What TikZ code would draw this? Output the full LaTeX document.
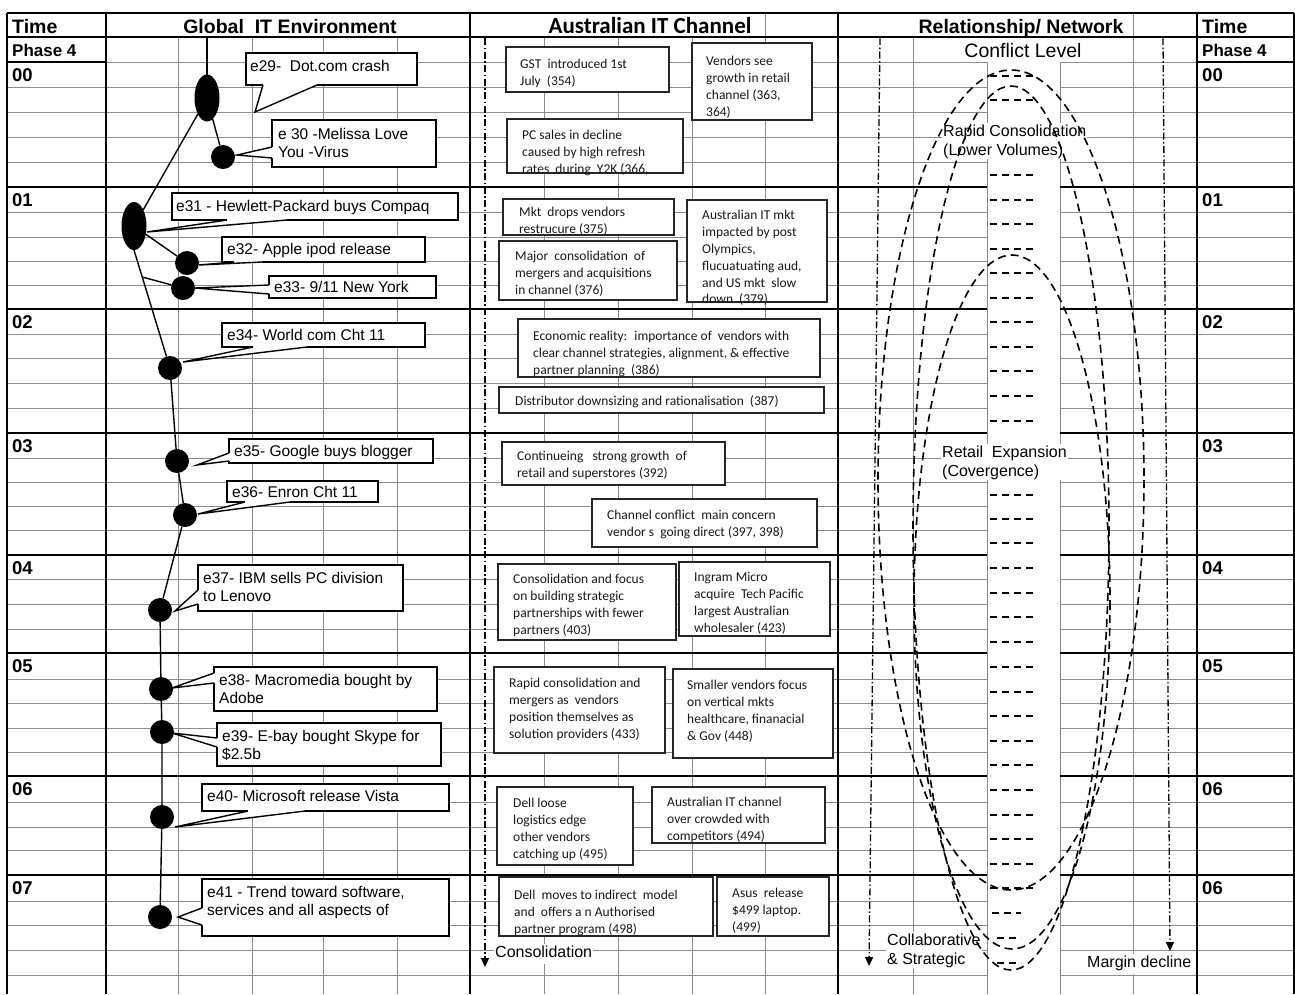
\documentclass[tikz,border=0pt]{standalone}
\usepackage{fontspec}
\setmainfont{Liberation Sans}
\newfontfamily\calfont{Carlito}
\usetikzlibrary{arrows.meta,calc,shapes.geometric}
\newcommand\callwedge[3]{%
  \fill[white] (#2) -- (#1) -- (#3) -- cycle;
  \draw[white,line width=2.8pt] (#2) -- (#3);
  \draw[cline] (#2) -- (#1) -- (#3);
}
\begin{document}
\begin{tikzpicture}[x=1pt,y=-1pt,
  gthin/.style={draw=black!45,line width=0.9pt},
  gthick/.style={draw=black,line width=1.9pt},
  hdr/.style={font=\bfseries\fontsize{19.5}{22}\selectfont,inner sep=0},
  yr/.style={font=\bfseries\fontsize{18.5}{20}\selectfont,anchor=west,inner sep=0},
  dotn/.style={circle,fill=black,minimum size=24pt,inner sep=0,outer sep=0},
  bigdot/.style={ellipse,fill=black,minimum width=25pt,minimum height=47pt,inner sep=0,outer sep=0},
  trunk/.style={line width=1.4pt},
  cbox/.style={draw=black,line width=1.4pt,fill=white,anchor=north west,inner sep=0,outer sep=0},
  cline/.style={draw=black,line width=1.4pt,line join=miter},
  ctext/.style={font=\fontsize{15.5}{18}\selectfont,align=left,anchor=north west,inner sep=0,yshift=7.9pt},
  abox/.style={draw=black!85,line width=1.1pt,fill=white,anchor=north west,inner sep=0,outer sep=0},
  atext/.style={font=\calfont\fontsize{13.5}{16.8}\selectfont,align=left,anchor=north west,inner sep=0,yshift=8pt,text=black!90},
  rlbl/.style={font=\fontsize{16}{18.5}\selectfont,align=left,anchor=north west,inner sep=1pt,fill=white,yshift=8.6pt},
  ddline/.style={line width=1.3pt,dash pattern=on 7pt off 2.5pt on 1.5pt off 2.5pt},
  arch/.style={line width=1.6pt,dash pattern=on 8pt off 5pt},
  cdash/.style={line width=2pt,dash pattern=on 7pt off 5pt},
  arrowtip/.style={-{Triangle[length=9pt,width=8pt]}}
]
\useasboundingbox (0,0) rectangle (1295,994);
\fill[white] (0,0) rectangle (1295,994);

% ---------- grid ----------
\foreach \y in {62,87,112,137,162,212,237,261,285,334,358,383,408,458,482,506,530,579,604,629,679,703,728,752,802,827,850,901,925,950,975}{
  \draw[gthin] (7,\y) -- (987,\y);
  \draw[gthin] (1060,\y) -- (1294,\y);
}
\foreach \x in {178,252,323,397,544,618,692,913}{\draw[gthin] (\x,37) -- (\x,994);}
\foreach \x in {765,1133}{\draw[gthin] (\x,13) -- (\x,994);}
\foreach \x in {987,1060}{\draw[gthin] (\x,62) -- (\x,994);}

\draw[gthick] (7,13) -- (1294,13);
\draw[gthick] (7,37) -- (1294,37);
\draw[gthick] (7,62) -- (106,62);
\draw[gthick] (1197,62) -- (1294,62);
\foreach \y in {187,309,433,555,653,776,875}{
  \draw[gthick] (7,\y) -- (987,\y);
  \draw[gthick] (1060,\y) -- (1294,\y);
}
\foreach \x in {7,106,470,838,1197,1294}{\draw[gthick] (\x,13) -- (\x,994);}

% ---------- headers ----------
\node[hdr,anchor=base west] (h1) at (12,33) {Time};
\node[hdr,anchor=base] (h2) at (290,33) {Global~ IT Environment};
\node[hdr,anchor=base,font=\calfont\bfseries\fontsize{23}{26}\selectfont] (h3) at (650,33) {Australian IT Channel};
\node[hdr,anchor=base] (h4) at (1021,33) {Relationship/ Network};
\node[hdr,anchor=base west] (h5) at (1202,33) {Time};

\node[yr,font=\bfseries\fontsize{17}{20}\selectfont] (ph1) at (12,50) {Phase 4};
\node[yr,font=\bfseries\fontsize{17}{20}\selectfont] (ph2) at (1202,50) {Phase 4};
\foreach \t/\y [count=\i] in {00/62,01/187,02/309,03/433,04/555,05/653,06/776,07/875}{
  \node[yr] (tl\i) at (12,\y+13.5) {\t};
}
\foreach \t/\y [count=\i] in {00/62,01/187,02/309,03/433,04/555,05/653,06/776,06/875}{
  \node[yr] (tr\i) at (1202,\y+13.5) {\t};
}

% ---------- Australian IT channel ----------
\coordinate (ac1) at (485,38);
\coordinate (ac2) at (485,967);
\draw[ddline,arrowtip] (ac1) -- (ac2);

\node[abox,minimum width=163pt,minimum height=45pt] (a1) at (506,47) {};
\node[atext] (a1t) at (520,65) {\strut GST~ introduced 1st\\July~ (354)};
\node[abox,minimum width=120pt,minimum height=77pt] (a2) at (692,43) {};
\node[atext] (a2t) at (706,62) {\strut Vendors see\\growth in retail\\channel (363,\\364)};
\node[abox,minimum width=176pt,minimum height=54pt] (a3) at (507,119) {};
\node[atext] (a3t) at (522,136) {\strut PC sales in decline\\caused by high refresh\\rates~ during~ Y2K (366,};
\node[abox,minimum width=171pt,minimum height=36pt] (a4) at (503,199) {};
\node[atext] (a4t) at (519,213) {\strut Mkt~ drops vendors\\restrucure (375)};
\node[abox,minimum width=178pt,minimum height=59pt] (a5) at (499,241) {};
\node[atext] (a5t) at (515,257) {\strut Major~ consolidation~ of\\mergers and acquisitions\\in channel (376)};
\node[abox,minimum width=140pt,minimum height=102pt] (a6) at (687,200) {};
\node[atext] (a6t) at (702,216) {\strut Australian IT mkt\\impacted by post\\Olympics,\\flucuatuating aud,\\and US mkt~ slow\\down~ (379)};
\node[abox,minimum width=302pt,minimum height=58pt] (a7) at (518,319) {};
\node[atext] (a7t) at (533,337) {\strut Economic reality:~ importance of~ vendors with\\clear channel strategies, alignment, \& effective\\partner planning~ (386)};
\node[abox,minimum width=325pt,minimum height=26pt] (a8) at (499,387) {};
\node[atext] (a8t) at (515,402) {\strut Distributor downsizing and rationalisation~ (387)};
\node[abox,minimum width=223pt,minimum height=43pt] (a9) at (502,442) {};
\node[atext] (a9t) at (517,457) {\strut Continueing~~ strong growth~ of\\retail and superstores (392)};
\node[abox,minimum width=225pt,minimum height=48pt] (a10) at (592,499) {};
\node[atext] (a10t) at (607,516) {\strut Channel conflict~ main concern\\vendor s~ going direct (397, 398)};
\node[abox,minimum width=178pt,minimum height=76pt] (a11) at (498,564) {};
\node[atext] (a11t) at (513,580) {\strut Consolidation and focus\\on building strategic\\partnerships with fewer\\partners (403)};
\node[abox,minimum width=151pt,minimum height=74pt] (a12) at (679,562) {};
\node[atext] (a12t) at (694,578) {\strut Ingram Micro\\acquire~ Tech Pacific\\largest Australian\\wholesaler (423)};
\node[abox,minimum width=171pt,minimum height=86pt] (a13) at (494,667) {};
\node[atext] (a13t) at (509,684) {\strut Rapid consolidation and\\mergers as~ vendors\\position themselves as\\solution providers (433)};
\node[abox,minimum width=160pt,minimum height=89pt] (a14) at (673,669) {};
\node[atext] (a14t) at (687,686) {\strut Smaller vendors focus\\on vertical mkts\\healthcare, finanacial\\\& Gov (448)};
\node[abox,minimum width=136pt,minimum height=78pt] (a15) at (497,787) {};
\node[atext] (a15t) at (513,804) {\strut Dell loose\\logistics edge\\other vendors\\catching up (495)};
\node[abox,minimum width=173pt,minimum height=56pt] (a16) at (652,787) {};
\node[atext] (a16t) at (667,803) {\strut Australian IT channel\\over crowded with\\competitors (494)};
\node[abox,minimum width=214pt,minimum height=59pt] (a17) at (499,877) {};
\node[atext] (a17t) at (514,896) {\strut Dell~ moves to indirect~ model\\and~ offers a n Authorised\\partner program (498)};
\node[abox,minimum width=112pt,minimum height=59pt] (a18) at (717,877) {};
\node[atext] (a18t) at (732,894) {\strut Asus~ release\\\$499 laptop.\\(499)};
\node[rlbl] (co) at (494,952) {\strut Consolidation};

% ---------- Relationship / network ----------
\node[font=\fontsize{19.5}{22}\selectfont,anchor=base,inner sep=0] (cl) at (1023,57) {Conflict Level};
\coordinate (rl1) at (880,38);
\coordinate (rl2) at (869,966);
\draw[ddline,arrowtip] (rl1) -- (rl2);
\coordinate (rr1) at (1163,38);
\coordinate (rr2) at (1170,951);
\draw[ddline,arrowtip] (rr1) -- (rr2);

\foreach \y in {76,100,125,150,175,200,224,249,273,298,322,347,371,396,421,445,470,495,519,543,568,593,617,642,667,692,716,741,765,790,815,839,864,888}{
  \draw[cdash] (990,\y) -- (1034,\y);
}
\draw[cdash] (992,913) -- (1021,913);
\draw[cdash] (997,938) -- (1021,938);
\draw[cdash] (997,963) -- (1021,963);

\node[rlbl] (rc) at (942,131) {\strut Rapid Consolidation\\(Lower Volumes)};
\node[rlbl] (re) at (941,452) {\strut Retail~ Expansion\\(Covergence)};
\node[rlbl] (cs) at (886,940) {\strut Collaborative\\\& Strategic};
\node[rlbl] (md) at (1086,962) {\strut Margin decline};

\draw[arch] (1011,480) ellipse [x radius=133, y radius=410];
\draw[arch] (1011,528) ellipse [x radius=98, y radius=442];
\draw[arch] (1012,602) ellipse [x radius=98, y radius=347];

% ---------- Global IT environment ----------
\coordinate (top) at (207,37);
\node[bigdot] (e29) at (207,98) {};
\node[dotn] (e30) at (223,157) {};
\node[bigdot,minimum height=48pt] (e31) at (134,226) {};
\node[dotn] (e32) at (187,263) {};
\node[dotn] (e33) at (183,288) {};
\node[dotn] (e34) at (170,368) {};
\node[dotn] (e35) at (177,461) {};
\node[dotn] (e36) at (185,515) {};
\node[dotn] (e37) at (160,610) {};
\node[dotn] (e38) at (161,689) {};
\node[dotn] (e39) at (162,732) {};
\node[dotn] (e40) at (162,817) {};
\node[dotn] (e41) at (160,917) {};
\coordinate (j33) at ($(e31.south)!0.229!(e34.center)$);
\draw[trunk] (top) -- (e29);
\draw[trunk] (e29) -- (e30);
\draw[trunk] (e29) -- (e31);
\draw[trunk] (e31.-35) -- (e32);
\draw[trunk] (e31.south) -- (e34);
\draw[trunk] (j33) -- (e33);
\draw[trunk] (e34) -- (e35) -- (e36) -- (e37) -- (e38) -- (e39) -- (e40) -- (e41);

% callouts
\node[cbox,minimum width=171pt,minimum height=32pt] (b29) at (246,53) {};
\coordinate (p29) at (255,112);
\callwedge{p29}{263,85}{317,85}
\node[ctext] (t29) at (250,67) {\strut e29-~ Dot.com crash};

\node[cbox,minimum width=164pt,minimum height=47pt] (b30) at (272,120) {};
\coordinate (p30) at (237,155);
\callwedge{p30}{272,147}{272,158}
\node[ctext] (t30) at (278,135) {\strut e 30 -Melissa Love\\You -Virus};

\node[cbox,minimum width=286pt,minimum height=27pt] (b31) at (172,193) {};
\coordinate (p31) at (147,232);
\callwedge{p31}{227,220}{287,220}
\node[ctext] (t31) at (176,207) {\strut e31 - Hewlett-Packard buys Compaq};

\node[cbox,minimum width=203pt,minimum height=25pt] (b32) at (222,237) {};
\coordinate (p32) at (199,265);
\callwedge{p32}{234,262}{262,262}
\node[ctext] (t32) at (227,250) {\strut e32- Apple ipod release};

\node[cbox,minimum width=167pt,minimum height=22pt] (b33) at (269,276) {};
\coordinate (p33) at (195,288);
\callwedge{p33}{269,285}{269,294}
\node[ctext] (t33) at (274,288) {\strut e33- 9/11 New York};

\node[cbox,minimum width=203pt,minimum height=24pt] (b34) at (222,323) {};
\coordinate (p34) at (183,362);
\callwedge{p34}{253,347}{307,347}
\node[ctext] (t34) at (227,336) {\strut e34- World com Cht 11};

\node[cbox,minimum width=204pt,minimum height=24pt] (b35) at (229,439) {};
\coordinate (p35) at (197,465);
\callwedge{p35}{229,453}{229,461}
\node[ctext] (t35) at (234,452) {\strut e35- Google buys blogger};

\node[cbox,minimum width=151pt,minimum height=21pt] (b36) at (227,481) {};
\coordinate (p36) at (198,514);
\callwedge{p36}{245,502}{290,502}
\node[ctext] (t36) at (232,493) {\strut e36- Enron Cht 11};

\node[cbox,minimum width=205pt,minimum height=46pt] (b37) at (198,565) {};
\coordinate (p37) at (175,611);
\callwedge{p37}{198,590}{198,604}
\node[ctext] (t37) at (203,579) {\strut e37- IBM sells PC division\\to Lenovo};

\node[cbox,minimum width=223pt,minimum height=44pt] (b38) at (214,667) {};
\coordinate (p38) at (172,688);
\callwedge{p38}{214,673}{214,683}
\node[ctext] (t38) at (219,681) {\strut e38- Macromedia bought by\\Adobe};

\node[cbox,minimum width=224pt,minimum height=43pt] (b39) at (217,723) {};
\coordinate (p39) at (172,733);
\callwedge{p39}{217,738}{217,747}
\node[ctext] (t39) at (222,737) {\strut e39- E-bay bought Skype for\\\$2.5b};

\node[cbox,minimum width=247pt,minimum height=27pt] (b40) at (202,784) {};
\coordinate (p40) at (175,827);
\callwedge{p40}{248,811}{305,811}
\node[ctext] (t40) at (207,797) {\strut e40- Microsoft release Vista};

\node[cbox,minimum width=247pt,minimum height=57pt] (b41) at (202,879) {};
\coordinate (p41) at (178,917);
\callwedge{p41}{202,908}{202,925}
\node[ctext] (t41) at (207,893) {\strut e41 - Trend toward software,\\services and all aspects of};
\end{tikzpicture}
\end{document}
